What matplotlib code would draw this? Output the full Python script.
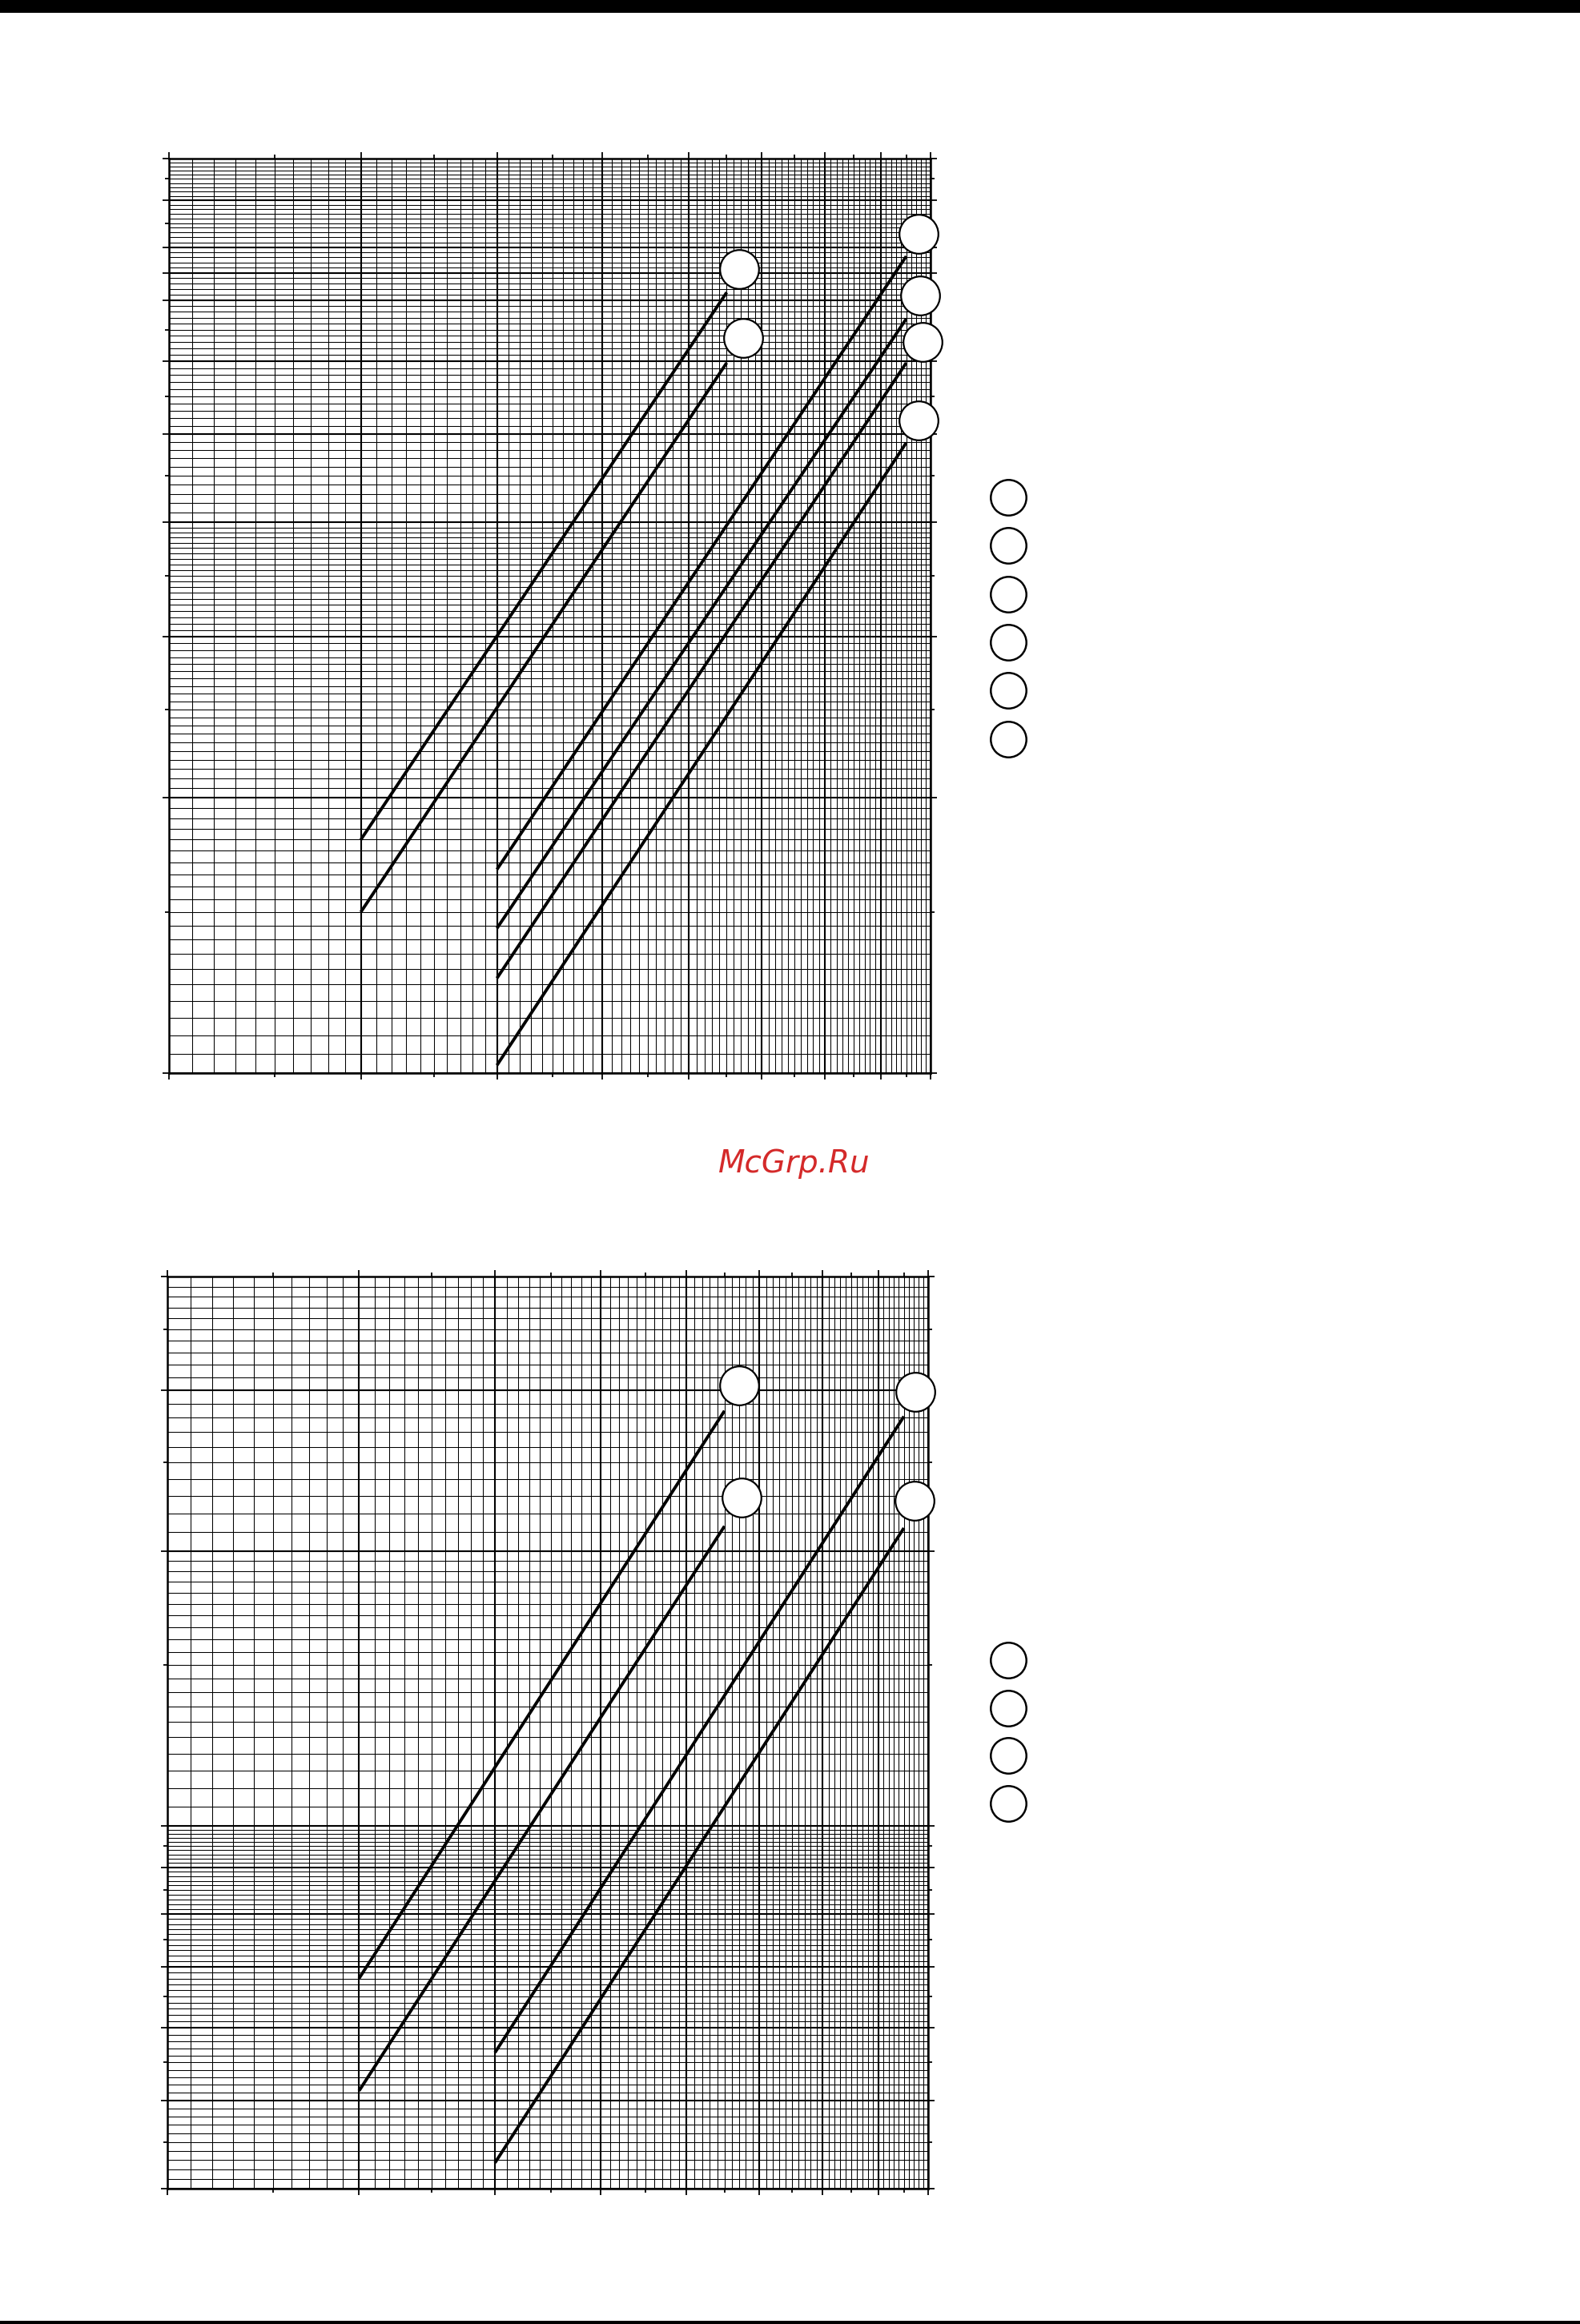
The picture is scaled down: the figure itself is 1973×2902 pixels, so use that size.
import numpy as np
import matplotlib
matplotlib.use("Agg")
import matplotlib.pyplot as plt
from matplotlib.ticker import FixedLocator, NullFormatter

# figure size in pixels (dpi 100)
W, H = 1973, 2902

# ---- data ----
# top panel: straight lines on log-log paper
top_x_start = [3.0, 3.0, 4.0, 4.0, 4.0, 4.0]
top_x_end = [6.5, 6.5, 9.5, 9.5, 9.5, 9.5]
top_y_start = [1.80, 1.50, 1.67, 1.44, 1.27, 1.02]
top_y_end = [7.14, 5.98, 7.82, 6.68, 5.98, 4.89]
# empty label circles at the end of each line
top_badge_x = [6.67, 6.73, 9.75, 9.79, 9.83, 9.75]
top_badge_y = [7.57, 6.37, 8.27, 7.08, 6.30, 5.17]

# bottom panel
bot_x_start = [3.0, 3.0, 4.0, 4.0]
bot_x_end = [6.5, 6.5, 9.5, 9.5]
bot_y_start = [6.80, 5.12, 5.64, 4.27]
bot_y_end = [28.5, 21.3, 28.1, 21.2]
bot_badge_x = [6.71, 6.74, 9.74, 9.72]
bot_badge_y = [30.4, 22.9, 29.9, 22.7]

# axis ranges / ticks
x_major = [2, 3, 4, 5, 6, 7, 8, 9, 10]
x_half = [2.5, 3.5, 4.5, 5.5, 6.5, 7.5, 8.5, 9.5]
top_y_major = [1, 2, 3, 4, 5, 6, 7, 7.5, 8, 9, 10]
top_y_half = [1.5, 2.5, 3.5, 4.5, 5.5, 6.5, 8.5, 9.5]
bot_y_major = [4, 5, 6, 7, 8, 9, 10, 20, 30, 40]
bot_y_half = [4.5, 5.5, 6.5, 7.5, 8.5, 9.5, 15, 25, 35]

# number of empty key circles to the right of each panel
top_keys = 6
bot_keys = 4


def steps(segments):
    # fine grid of the graph paper: (start, stop, step) pieces
    vals = []
    for a, b, s in segments:
        vals.extend(np.arange(a, b + s / 2, s))
    return np.unique(np.round(vals, 4))


x_fine = steps([(2, 10, 0.1)])
top_y_fine = steps([(1, 4, 0.05), (4, 10, 0.1)])
bot_y_fine = steps([(4, 10, 0.1), (10, 20, 0.5), (20, 40, 1)])


def paper(ax, xlim, ylim, xmaj, xhalf, ymaj, yhalf, xfine, yfine):
    ax.set_xscale("log")
    ax.set_yscale("log")
    ax.set_xlim(*xlim)
    ax.set_ylim(*ylim)
    ax.vlines(xfine, ylim[0], ylim[1], color="k", lw=0.75, zorder=1)
    ax.hlines(yfine, xlim[0], xlim[1], color="k", lw=0.75, zorder=1)
    ax.vlines(xmaj, ylim[0], ylim[1], color="k", lw=1.5, zorder=1)
    ax.hlines(ymaj, xlim[0], xlim[1], color="k", lw=1.5, zorder=1)
    for axis, maj, half in [(ax.xaxis, xmaj, xhalf), (ax.yaxis, ymaj, yhalf)]:
        axis.set_major_locator(FixedLocator(maj))
        axis.set_minor_locator(FixedLocator(half))
        axis.set_major_formatter(NullFormatter())
        axis.set_minor_formatter(NullFormatter())
    ax.tick_params(which="both", direction="out", top=True, right=True,
                   labelbottom=False, labelleft=False, width=1.3, color="k")
    ax.tick_params(which="major", length=6)
    ax.tick_params(which="minor", length=3.5)
    for sp in ax.spines.values():
        sp.set_linewidth(1.8)
        sp.set_zorder(3)


def draw_lines(ax, xs, xe, ys, ye, bx, by):
    for i in range(len(xs)):
        ax.plot([xs[i], xe[i]], [ys[i], ye[i]], color="k", lw=2.8,
                solid_capstyle="butt", zorder=4)
    ax.plot(bx, by, ls="none", marker="o", ms=35, mfc="white", mec="k",
            mew=1.6, clip_on=False, zorder=6)


fig = plt.figure(figsize=(W / 100, H / 100), dpi=100)

ax1 = fig.add_axes([211 / W, 1 - 1340 / H, 951 / W, 1142 / H])
paper(ax1, (2, 10), (1, 10), x_major, x_half, top_y_major, top_y_half,
      x_fine, top_y_fine)
draw_lines(ax1, top_x_start, top_x_end, top_y_start, top_y_end,
           top_badge_x, top_badge_y)

ax2 = fig.add_axes([209 / W, 1 - 2733 / H, 950 / W, 1139 / H])
paper(ax2, (2, 10), (4, 40), x_major, x_half, bot_y_major, bot_y_half,
      x_fine, bot_y_fine)
draw_lines(ax2, bot_x_start, bot_x_end, bot_y_start, bot_y_end,
           bot_badge_x, bot_badge_y)

# overlay in pixel units for page decorations
ov = fig.add_axes([0, 0, 1, 1], facecolor="none")
ov.set_xlim(0, W)
ov.set_ylim(H, 0)
ov.axis("off")

# black bars at top and bottom of the page
ov.add_patch(plt.Rectangle((0, 0), W, 16, color="k", lw=0))
ov.add_patch(plt.Rectangle((0, 2898), W, 4, color="k", lw=0))

# empty key circles to the right of the panels
key_gap = 60.3
ov.plot(np.full(top_keys, 1259), 621 + key_gap * np.arange(top_keys), ls="none",
        marker="o", ms=32, mfc="white", mec="k", mew=1.8)
ov.plot(np.full(bot_keys, 1259), 2073 + 59.7 * np.arange(bot_keys), ls="none",
        marker="o", ms=32, mfc="white", mec="k", mew=1.8)

ov.text(992, 1453, "McGrp.Ru", color="#d42a2a", fontsize=28, style="italic",
        ha="center", va="center")

fig.savefig("out.png", dpi=100)
